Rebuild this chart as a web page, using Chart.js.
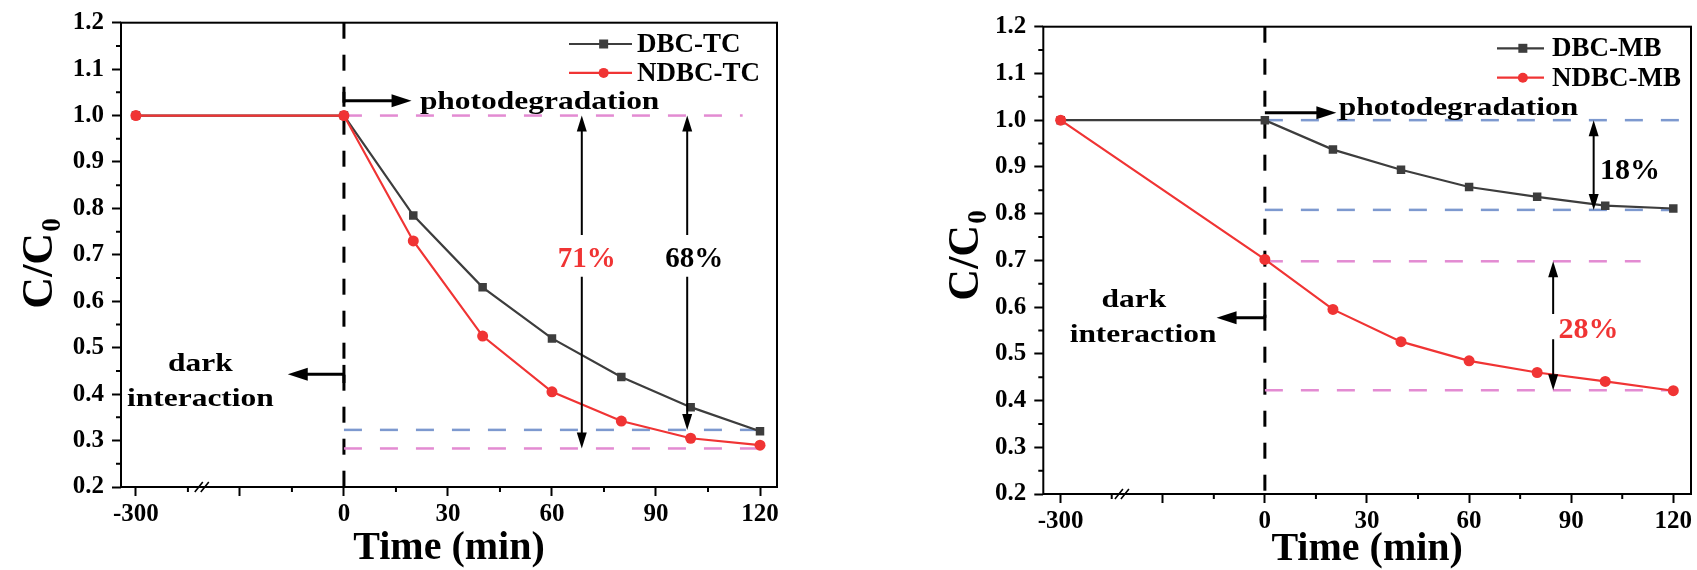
<!DOCTYPE html>
<html>
<head>
<meta charset="utf-8">
<title>C/C0 vs Time – TC and MB</title>
<script src="https://cdn.jsdelivr.net/npm/chart.js@4.4.1/dist/chart.umd.min.js"></script>
<style>
  html, body { margin:0; padding:0; background:#ffffff; }
  body { width:1697px; height:570px; position:relative; overflow:hidden; }
  canvas { position:absolute; top:0; }
  #chartTC { left:0; }
  #chartMB { left:922px; }
</style>
</head>
<body>
<canvas id="chartTC" width="848" height="570"></canvas>
<canvas id="chartMB" width="775" height="570"></canvas>
<script>
// ---------------- data ----------------
const timeTC = [-300, 0, 20, 40, 60, 80, 100, 120];
const dbcTC  = [1.000, 1.000, 0.785, 0.630, 0.520, 0.437, 0.372, 0.320];
const ndbcTC = [1.000, 1.000, 0.730, 0.525, 0.405, 0.342, 0.305, 0.290];

const timeMB = [-300, 0, 20, 40, 60, 80, 100, 120];
const dbcMB  = [1.000, 1.000, 0.937, 0.894, 0.857, 0.836, 0.817, 0.811];
const ndbcMB = [1.000, 0.702, 0.595, 0.526, 0.485, 0.460, 0.441, 0.421];

const namesTC = ['DBC-TC', 'NDBC-TC'];
const namesMB = ['DBC-MB', 'NDBC-MB'];

// broken time axis: -300 min is drawn two major steps left of 0
const xTickLabels  = ['-300', '', '0', '30', '60', '90', '120'];
const yTickValues  = [0.2, 0.3, 0.4, 0.5, 0.6, 0.7, 0.8, 0.9, 1.0, 1.1, 1.2];
const yTickLabels  = ['0.2', '0.3', '0.4', '0.5', '0.6', '0.7', '0.8', '0.9', '1.0', '1.1', '1.2'];
const yMinorValues = [0.25, 0.35, 0.45, 0.55, 0.65, 0.75, 0.85, 0.95, 1.05, 1.15];
const xMinorValues = [-45, -15, 15, 45, 75, 105];
const xTitle = 'Time (min)';

// reference (dashed) levels and annotation values, in data units
const refTC = [
  { y: 1.000, from: 0, to: 115, kind: 'pink' },
  { y: 0.323, from: 0, to: 120, kind: 'blue' },
  { y: 0.283, from: 0, to: 120, kind: 'pink' }
];
const refMB = [
  { y: 1.000, from: 0, to: 126, kind: 'blue' },
  { y: 0.808, from: 0, to: 121, kind: 'blue' },
  { y: 0.698, from: 0, to: 110.4, kind: 'pink' },
  { y: 0.422, from: 0, to: 120, kind: 'pink' }
];
const textsTC = [
  { text: 'photodegradation', x: 21.9, y: 1.0135, align: 'left', size: 26, stretch: 1.21 },
  { text: 'dark', x: -41.4, y: 0.4505, align: 'center', size: 26, stretch: 1.21 },
  { text: 'interaction', x: -41.4, y: 0.3745, align: 'center', size: 26, stretch: 1.21 },
  { text: '71%', x: 70.0, y: 0.6745, align: 'center', size: 29, red: true },
  { text: '68%', x: 101.0, y: 0.6745, align: 'center', size: 29 }
];
const textsMB = [
  { text: 'photodegradation', x: 21.7, y: 1.011, align: 'left', size: 26, stretch: 1.21 },
  { text: 'dark', x: -38.5, y: 0.601, align: 'center', size: 26, stretch: 1.21 },
  { text: 'interaction', x: -35.8, y: 0.526, align: 'center', size: 26, stretch: 1.21 },
  { text: '18%', x: 107.3, y: 0.875, align: 'center', size: 30 },
  { text: '28%', x: 95.1, y: 0.5345, align: 'center', size: 30, red: true }
];
const hArrowsTC = [
  { y: 1.032, from: 0, to: 19.5, bar: [1.051, 1.019] },
  { y: 0.443, from: 0, to: -16.2, bar: [0.463, 0.424] }
];
const hArrowsMB = [
  { y: 1.016, from: 0, to: 21.0, bar: null },
  { y: 0.577, from: 0, to: -14.2, bar: [0.615, 0.577] }
];
const vArrowsTC = [
  { x: 68.6, top: 1.000, bottom: 0.283, gap: [0.743, 0.653] },
  { x: 99.0, top: 1.000, bottom: 0.323, gap: [0.743, 0.653] }
];
const vArrowsMB = [
  { x: 96.6, top: 1.000, bottom: 0.808, gap: null },
  { x: 84.7, top: 0.698, bottom: 0.422, gap: [0.585, 0.531] }
];

// ---------------- styling ----------------
const FONT = '"Liberation Serif", "Times New Roman", Times, serif';
const C_GRAY = '#3d3d3d', C_RED = '#f03434', C_PINK = '#e38bd2', C_BLUE = '#7d99cf';

function axisPos(t) { return t < -60 ? t + 240 : t; }
function toPoints(times, vals) { return times.map((t, i) => ({ x: axisPos(t), y: vals[i] })); }
const xMajorPos = [-60, -30, 0, 30, 60, 90, 120];

const PANELS = {
  chartTC: { texts: textsTC, hArrows: hArrowsTC, vArrows: vArrowsTC, breakAt: -41,
             legend: { dx: -208, rows: [21.3, 50.2], len: 63, gap: 5 }, yTitle: { x: 52, y: 264 } },
  chartMB: { texts: textsMB, hArrows: hArrowsMB, vArrows: vArrowsMB, breakAt: -42,
             legend: { dx: -194, rows: [21.6, 51.0], len: 47, gap: 8 }, yTitle: { x: 56, y: 256 } }
};

function head(ctx, x, y, dx, dy, len, hw) {
  const bx = x - dx * len, by = y - dy * len;
  ctx.beginPath();
  ctx.moveTo(x, y);
  ctx.lineTo(bx - dy * hw, by + dx * hw);
  ctx.lineTo(bx + dy * hw, by - dx * hw);
  ctx.closePath();
  ctx.fill();
}

const panelDecor = {
  id: 'panelDecor',
  afterDatasetsDraw(chart) {
    const P = PANELS[chart.canvas.id], ctx = chart.ctx;
    const xs = chart.scales.x, ys = chart.scales.y;
    const X = v => xs.getPixelForValue(v), Y = v => ys.getPixelForValue(v);
    ctx.save();
    ctx.fillStyle = '#000'; ctx.strokeStyle = '#000';
    P.hArrows.forEach(a => {
      const x1 = X(a.from), x2 = X(a.to), y = Y(a.y);
      const dir = Math.sign(x2 - x1);
      ctx.lineWidth = 3;
      ctx.beginPath(); ctx.moveTo(x1, y); ctx.lineTo(x2 - dir * 14, y); ctx.stroke();
      head(ctx, x2, y, dir, 0, 20, 6.5);
      if (a.bar) {
        ctx.beginPath(); ctx.moveTo(x1, Y(a.bar[0])); ctx.lineTo(x1, Y(a.bar[1])); ctx.stroke();
      }
    });
    P.vArrows.forEach(a => {
      const x = X(a.x), yt = Y(a.top), yb = Y(a.bottom);
      ctx.lineWidth = 2;
      ctx.beginPath();
      if (a.gap) {
        ctx.moveTo(x, yt + 10); ctx.lineTo(x, Y(a.gap[0]));
        ctx.moveTo(x, Y(a.gap[1])); ctx.lineTo(x, yb - 10);
      } else {
        ctx.moveTo(x, yt + 10); ctx.lineTo(x, yb - 10);
      }
      ctx.stroke();
      head(ctx, x, yt, 0, -1, 16, 5);
      head(ctx, x, yb, 0, 1, 16, 5);
    });
    P.texts.forEach(t => {
      ctx.save();
      ctx.translate(X(t.x), Y(t.y));
      ctx.scale(t.stretch || 1, 1);
      ctx.font = 'bold ' + t.size + 'px ' + FONT;
      ctx.fillStyle = t.red ? C_RED : '#000';
      ctx.textAlign = t.align;
      ctx.textBaseline = 'alphabetic';
      ctx.fillText(t.text, 0, 0);
      ctx.restore();
    });
    ctx.restore();
  },
  afterDraw(chart) {
    const P = PANELS[chart.canvas.id], ctx = chart.ctx, A = chart.chartArea;
    const xs = chart.scales.x, ys = chart.scales.y;
    ctx.save();
    ctx.strokeStyle = '#000'; ctx.lineWidth = 2;
    ctx.strokeRect(A.left, A.top, A.right - A.left, A.bottom - A.top);
    ctx.beginPath();
    xMinorValues.forEach(v => { const x = xs.getPixelForValue(v); ctx.moveTo(x, A.bottom); ctx.lineTo(x, A.bottom + 5); });
    yMinorValues.forEach(v => { const y = ys.getPixelForValue(v); ctx.moveTo(A.left - 5, y); ctx.lineTo(A.left, y); });
    ctx.stroke();
    const bx = xs.getPixelForValue(P.breakAt), by = A.bottom;
    ctx.lineWidth = 1.6;
    ctx.beginPath();
    [-3, 3].forEach(o => { ctx.moveTo(bx + o - 4, by + 5); ctx.lineTo(bx + o + 4, by - 5); });
    ctx.stroke();
    const L = P.legend;
    chart.data.datasets.filter(d => d.isSeries).forEach((d, i) => {
      const y = A.top + L.rows[i];
      const x0 = A.right + L.dx;
      ctx.strokeStyle = d.borderColor; ctx.lineWidth = 2.2;
      ctx.beginPath(); ctx.moveTo(x0, y); ctx.lineTo(x0 + L.len, y); ctx.stroke();
      const cx = x0 + L.len * 0.55;
      ctx.fillStyle = d.borderColor;
      if (d.pointStyle === 'rect') { ctx.fillRect(cx - 4.5, y - 4.5, 9, 9); }
      else { ctx.beginPath(); ctx.arc(cx, y, 5, 0, Math.PI * 2); ctx.fill(); }
      ctx.fillStyle = '#000';
      ctx.font = 'bold 27px ' + FONT;
      ctx.textAlign = 'left'; ctx.textBaseline = 'middle';
      ctx.fillText(d.label, x0 + L.len + L.gap, y + 1);
    });
    ctx.translate(P.yTitle.x, P.yTitle.y);
    ctx.rotate(-Math.PI / 2);
    const big = 'bold 44px ' + FONT, small = 'bold 27px ' + FONT;
    ctx.font = big; const w1 = ctx.measureText('C/C').width;
    ctx.font = small; const w2 = ctx.measureText('0').width;
    const start = -(w1 + w2) / 2;
    ctx.fillStyle = '#000'; ctx.textAlign = 'left'; ctx.textBaseline = 'alphabetic';
    ctx.font = big; ctx.fillText('C/C', start, 0);
    ctx.font = small; ctx.fillText('0', start + w1 + 1, 8);
    ctx.restore();
  }
};

function makePanel(id, cfg) {
  const series = [
    { label: cfg.names[0], isSeries: true, data: toPoints(cfg.time, cfg.dbc), borderColor: C_GRAY, backgroundColor: C_GRAY,
      pointBackgroundColor: C_GRAY, pointBorderColor: C_GRAY, borderWidth: 2.2, pointStyle: 'rect', pointRadius: 6,
      pointBorderWidth: 0, order: 2 },
    { label: cfg.names[1], isSeries: true, data: toPoints(cfg.time, cfg.ndbc), borderColor: C_RED, backgroundColor: C_RED,
      pointBackgroundColor: C_RED, pointBorderColor: C_RED, borderWidth: 2.2, pointStyle: 'circle', pointRadius: 5.5,
      pointBorderWidth: 0, order: 1 }
  ];
  const refs = cfg.refs.map(r => ({
    label: '', data: [{ x: r.from, y: r.y }, { x: r.to, y: r.y }],
    borderColor: r.kind === 'pink' ? C_PINK : C_BLUE, borderWidth: 2.5, borderDash: [18, 18],
    pointRadius: 0, order: 5
  }));
  const divider = {
    label: '', data: [{ x: 0, y: 1.2 }, { x: 0, y: 0.2 }], borderColor: '#000', borderWidth: 3,
    borderDash: [16, 16], pointRadius: 0, order: 6
  };
  return new Chart(document.getElementById(id), {
    type: 'line',
    data: { datasets: [...series, ...refs, divider] },
    options: {
      responsive: false, animation: false, devicePixelRatio: 1,
      layout: { padding: { top: cfg.padTop, right: cfg.padRight, left: 0, bottom: 0 } },
      plugins: { legend: { display: false }, tooltip: { enabled: false } },
      scales: {
        x: {
          type: 'linear', min: cfg.xMin, max: cfg.xMax,
          afterBuildTicks: s => { s.ticks = xMajorPos.map(v => ({ value: v })); },
          afterFit: s => { s.height = cfg.xAxisH; s.paddingLeft = 0; s.paddingRight = 0; s.paddingTop = 0; s.paddingBottom = 0; },
          ticks: { autoSkip: false, maxRotation: 0, minRotation: 0, padding: 4, color: '#000',
                   font: { family: FONT, size: 25, weight: 'bold' },
                   callback: (v, i) => xTickLabels[i] },
          grid: { drawOnChartArea: false, drawTicks: true, tickLength: 9, tickColor: '#000', tickWidth: 2 },
          border: { display: false },
          title: { display: true, text: xTitle, color: '#000',
                   font: { family: FONT, size: 40, weight: 'bold', lineHeight: 1 },
                   padding: { top: 0, bottom: cfg.titlePad } }
        },
        y: {
          type: 'linear', min: 0.2, max: 1.2,
          afterBuildTicks: s => { s.ticks = yTickValues.map(v => ({ value: v })); },
          afterFit: s => { s.width = cfg.yAxisW; s.paddingTop = 0; s.paddingBottom = 0; s.paddingLeft = 0; s.paddingRight = 0; },
          ticks: { autoSkip: false, padding: 8, color: '#000',
                   font: { family: FONT, size: 25, weight: 'bold' },
                   callback: (v, i) => yTickLabels[i] },
          grid: { drawOnChartArea: false, drawTicks: true, tickLength: 9, tickColor: '#000', tickWidth: 2 },
          border: { display: false }
        }
      }
    },
    plugins: [panelDecor]
  });
}

const chartTC = makePanel('chartTC', {
  time: timeTC, dbc: dbcTC, ndbc: ndbcTC, names: namesTC, refs: refTC,
  padTop: 22.7, padRight: 71, yAxisW: 121, xAxisH: 83, xMin: -64.3, xMax: 124.9, titlePad: 1
});
const chartMB = makePanel('chartMB', {
  time: timeMB, dbc: dbcMB, ndbc: ndbcMB, names: namesMB, refs: refMB,
  padTop: 26.7, padRight: 5.7, yAxisW: 121.3, xAxisH: 76, xMin: -65.1, xMax: 125.2, titlePad: 0
});
</script>
</body>
</html>
